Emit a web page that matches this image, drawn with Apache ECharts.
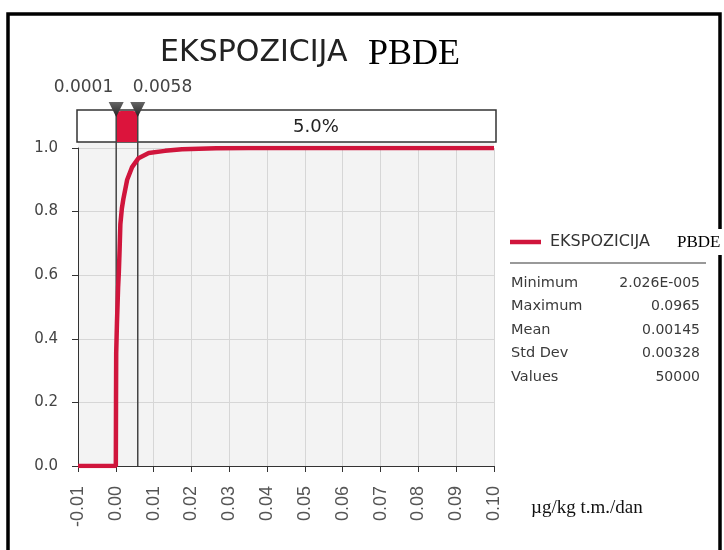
<!DOCTYPE html>
<html>
<head>
<meta charset="utf-8">
<script src="https://cdn.jsdelivr.net/npm/echarts@6/dist/echarts.min.js"></script>
<style>
  html, body { margin: 0; padding: 0; background: #fff; }
  #chart { width: 724px; height: 550px; }
</style>
</head>
<body>
<div id="chart"></div>
<script>
// cumulative curve
var cdfX = [-0.01, 0, 0, 0.00005, 0.0001, 0.0003, 0.0006, 0.0008, 0.001, 0.0012, 0.0016, 0.002, 0.003, 0.0043, 0.006, 0.0087, 0.013, 0.0175, 0.0265, 0.035, 0.0965, 0.1];
var cdfY = [0, 0, 0.003, 0.2, 0.354, 0.45, 0.56, 0.61, 0.68, 0.76, 0.81, 0.84, 0.9, 0.94, 0.968, 0.984, 0.991, 0.996, 0.999, 1, 1, 1];

// delimiters on the top bar
var markerValues = [0.0001, 0.0058];
var markerLabels = ['0.0001', '0.0058'];
var bandLabel = '5.0%';

// statistics box
var statNames = ['Minimum', 'Maximum', 'Mean', 'Std Dev', 'Values'];
var statValues = ['2.026E-005', '0.0965', '0.00145', '0.00328', '50000'];

var xMin = -0.01, xMax = 0.10, xStep = 0.01;
var yMin = 0, yMax = 1, yStep = 0.2;

var curveColor = '#d0153c';
var sansFont = '"DejaVu Sans", sans-serif';
var serifFont = '"Liberation Serif", "DejaVu Serif", serif';

var chart = echarts.init(document.getElementById('chart'));

var points = cdfX.map(function (x, i) { return [x, cdfY[i]]; });

var option = {
  animation: false,
  grid: {
    left: 78, right: 230, top: 148, bottom: 84,
    show: true, backgroundColor: '#f3f3f3', borderWidth: 0
  },
  xAxis: {
    type: 'value',
    min: xMin, max: xMax, interval: xStep,
    axisLine: { show: true, onZero: false, lineStyle: { color: '#333', width: 1 } },
    axisTick: { show: true, length: 6, lineStyle: { color: '#333' } },
    splitLine: { show: true, lineStyle: { color: '#d6d6d6', width: 1 } },
    axisLabel: {
      rotate: 90, margin: 20, color: '#555',
      fontFamily: '"Liberation Sans", Arial, sans-serif', fontSize: 18,
      formatter: function (v) { return v.toFixed(2); }
    }
  },
  yAxis: {
    type: 'value',
    min: yMin, max: yMax, interval: yStep,
    axisLine: { show: true, onZero: false, lineStyle: { color: '#333', width: 1 } },
    axisTick: { show: true, length: 6, lineStyle: { color: '#333' } },
    splitLine: { show: true, lineStyle: { color: '#d6d6d6', width: 1 } },
    axisLabel: {
      margin: 20, color: '#444', fontFamily: sansFont, fontSize: 15,
      formatter: function (v) { return v.toFixed(1); }
    }
  },
  series: [{
    name: 'EKSPOZICIJA PBDE',
    type: 'line',
    data: points,
    showSymbol: false,
    lineStyle: { color: curveColor, width: 4.5 },
    z: 3
  }]
};

chart.setOption(option);

// build the decoration from the axis scale
function px(x, y) { return chart.convertToPixel({ gridIndex: 0 }, [x, y]); }

var leftPx = px(xMin, 0)[0];
var rightPx = px(xMax, 0)[0];
var bottomPx = px(0, yMin)[1];
var topPx = px(0, yMax)[1];
var barTop = 110, barBottom = 142;
var m1 = px(markerValues[0], 0)[0];
var m2 = px(markerValues[1], 0)[0];

var g = [];

// strip between bar and plot
g.push({ type: 'rect', shape: { x: leftPx, y: barBottom, width: rightPx - leftPx, height: topPx - barBottom },
  style: { fill: '#f3f3f3' }, z: 0 });

// bar
g.push({ type: 'rect', shape: { x: leftPx - 1, y: barTop, width: rightPx - leftPx + 3, height: barBottom - barTop },
  style: { fill: '#fff', stroke: '#333', lineWidth: 1.5 }, z: 1 });
g.push({ type: 'rect', shape: { x: m1, y: barTop + 1, width: m2 - m1, height: barBottom - barTop - 1, r: [5, 5, 0, 0] },
  style: { fill: '#dc143c' }, z: 2 });
g.push({ type: 'text', x: (m2 + rightPx) / 2, y: (barTop + barBottom) / 2 + 1,
  style: { text: bandLabel, fill: '#222', font: '18px ' + sansFont, align: 'center', verticalAlign: 'middle' }, z: 2 });

// marker lines, triangles and labels
[m1, m2].forEach(function (m, i) {
  g.push({ type: 'line', shape: { x1: m, y1: barTop, x2: m, y2: bottomPx },
    style: { stroke: '#444', lineWidth: 1.5 }, z: 2 });
  g.push({ type: 'polygon', shape: { points: [[m - 7.5, barTop - 8], [m + 7.5, barTop - 8], [m, barTop + 7]] },
    style: { fill: new echarts.graphic.LinearGradient(0, 0, 0, 1, [
      { offset: 0, color: '#666' }, { offset: 1, color: '#222' }]) }, z: 4 });
  g.push({ type: 'text', x: i === 0 ? m - 3 : m - 5, y: 88,
    style: { text: markerLabels[i], fill: '#444', font: '17px ' + sansFont,
      align: i === 0 ? 'right' : 'left', verticalAlign: 'middle' }, z: 4 });
});

// title
g.push({ type: 'text', x: 160, y: 53,
  style: { text: 'EKSPOZICIJA', fill: '#222', font: '30px ' + sansFont, verticalAlign: 'middle' } });
g.push({ type: 'text', x: 368, y: 55,
  style: { text: 'PBDE', fill: '#000', font: '36px ' + serifFont, verticalAlign: 'middle' } });

// unit
g.push({ type: 'text', x: 531, y: 508,
  style: { text: 'µg/kg t.m./dan', fill: '#111', font: '19px ' + serifFont, verticalAlign: 'middle' } });

// frame
g.push({ type: 'polyline', shape: { points: [[8, 552], [8, 14], [720, 14], [720, 552]] },
  style: { stroke: '#000', lineWidth: 3.5, fill: null }, z: 5 });
g.push({ type: 'rect', shape: { x: 668, y: 229, width: 56, height: 26 }, style: { fill: '#fff' }, z: 6 });

// legend
g.push({ type: 'line', shape: { x1: 510, y1: 242, x2: 541, y2: 242 },
  style: { stroke: curveColor, lineWidth: 4.5 }, z: 7 });
g.push({ type: 'text', x: 550, y: 242,
  style: { text: 'EKSPOZICIJA', fill: '#333', font: '16px ' + sansFont, verticalAlign: 'middle' }, z: 7 });
g.push({ type: 'text', x: 677, y: 243,
  style: { text: 'PBDE', fill: '#000', font: '17px ' + serifFont, verticalAlign: 'middle' }, z: 7 });
g.push({ type: 'line', shape: { x1: 510, y1: 263, x2: 706, y2: 263 },
  style: { stroke: '#999', lineWidth: 2 }, z: 7 });

// statistics rows
statNames.forEach(function (name, i) {
  var y = 283 + i * 23.5;
  g.push({ type: 'text', x: 511, y: y,
    style: { text: name, fill: '#3a3a3a', font: '14.5px ' + sansFont, verticalAlign: 'middle' }, z: 7 });
  g.push({ type: 'text', x: 700, y: y,
    style: { text: statValues[i], fill: '#3a3a3a', font: '14px ' + sansFont, align: 'right', verticalAlign: 'middle' }, z: 7 });
});

chart.setOption({ graphic: { elements: g } });
</script>
</body>
</html>
